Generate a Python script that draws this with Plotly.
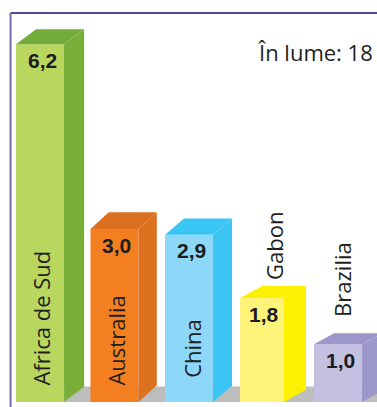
import plotly.graph_objects as go

countries = ["Africa de Sud", "Australia", "China", "Gabon", "Brazilia"]
values = [6.2, 3.0, 2.9, 1.8, 1.0]
value_labels = ["6,2", "3,0", "2,9", "1,8", "1,0"]
front = ["#b9d65e", "#f47f20", "#8dd8f8", "#fff37a", "#c3c0e2"]
side = ["#79ae38", "#dc7120", "#3cc4f2", "#fff200", "#9d98cc"]
top = ["#72ad3a", "#da7020", "#3ac6f5", "#fff200", "#9c97cb"]
positions = [0, 1, 2, 2.98, 4]
total_label = "În lume: 18"

bar_widths = [0.645, 0.645, 0.645, 0.59, 0.645]
depth_x = [0.27, 0.245, 0.255, 0.295, 0.27]
depth_y = [0.26, 0.29, 0.28, 0.21, 0.19]
name_dx = [0.02, 0.02, 0.03, 0.16, 0.06]
name_y = [0.25, 0.25, 0.38, 2.08, 1.44]
X_RANGE = [-0.537, 4.523]
Y_RANGE = [-0.087, 6.967]
FLOOR = 0.27

fig = go.Figure()


def poly(xs, ys, color):
    fig.add_trace(go.Scatter(x=xs, y=ys, mode="lines", fill="toself", fillcolor=color,
                             line=dict(width=0), hoverinfo="skip", showlegend=False))


# grey floor, under the bars
floor_l = positions[0] + bar_widths[0] / 2
fig.add_shape(type="path", layer="below", line=dict(width=0), fillcolor="#bdbdbd",
              path="M %f,0 L %f,%f L %f,%f L %f,0 Z" % (
                  floor_l, floor_l + depth_x[0], FLOOR, X_RANGE[1], FLOOR, X_RANGE[1]))

for p, v, w, dx, dy, s, t in zip(positions, values, bar_widths, depth_x, depth_y, side, top):
    l, r = p - w / 2, p + w / 2
    poly([r, r + dx, r + dx, r], [0, dy, v + dy, v], s)
    poly([l, l + dx, r + dx, r], [v, v + dy, v + dy, v], t)

fig.add_trace(go.Bar(x=positions, y=values, width=bar_widths,
                     marker=dict(color=front, line=dict(width=0)),
                     hoverinfo="skip", showlegend=False))

label_font = dict(family="Open Sans", size=22, color="#231f20")
for p, c, v, vl, ndx, ny in zip(positions, countries, values, value_labels, name_dx, name_y):
    fig.add_annotation(x=p + 0.03, y=v - 0.28, text="<b>%s</b>" % vl, showarrow=False,
                       font=dict(family="Liberation Sans", size=21, color="#1c1c20"))
    fig.add_annotation(x=p + ndx, y=ny, text=c, textangle=-90, showarrow=False,
                       yanchor="bottom", font=label_font)

fig.add_annotation(x=1, xref="paper", xanchor="right", y=6.07, text=total_label, showarrow=False,
                   font=dict(family="Open Sans", size=22, color="#231f20"), xshift=-2)

# frame of the page
fig.add_shape(type="line", xref="paper", yref="paper", x0=0.028, x1=1, y0=0.968, y1=0.968,
              line=dict(color="#4b4a9e", width=2))
fig.add_shape(type="line", xref="paper", yref="paper", x0=0.028, x1=0.028, y0=0, y1=0.968,
              line=dict(color="#6f6fae", width=2))

fig.update_layout(width=377, height=407, margin=dict(l=0, r=0, t=0, b=0),
                  paper_bgcolor="white", plot_bgcolor="white", showlegend=False,
                  xaxis=dict(range=X_RANGE, visible=False, fixedrange=True),
                  yaxis=dict(range=Y_RANGE, visible=False, fixedrange=True))
fig.write_html("out.html", config=dict(displayModeBar=False),
               default_width="377px", default_height="407px",
               post_script="document.body.style.margin='0';document.documentElement.style.overflow='hidden';")
